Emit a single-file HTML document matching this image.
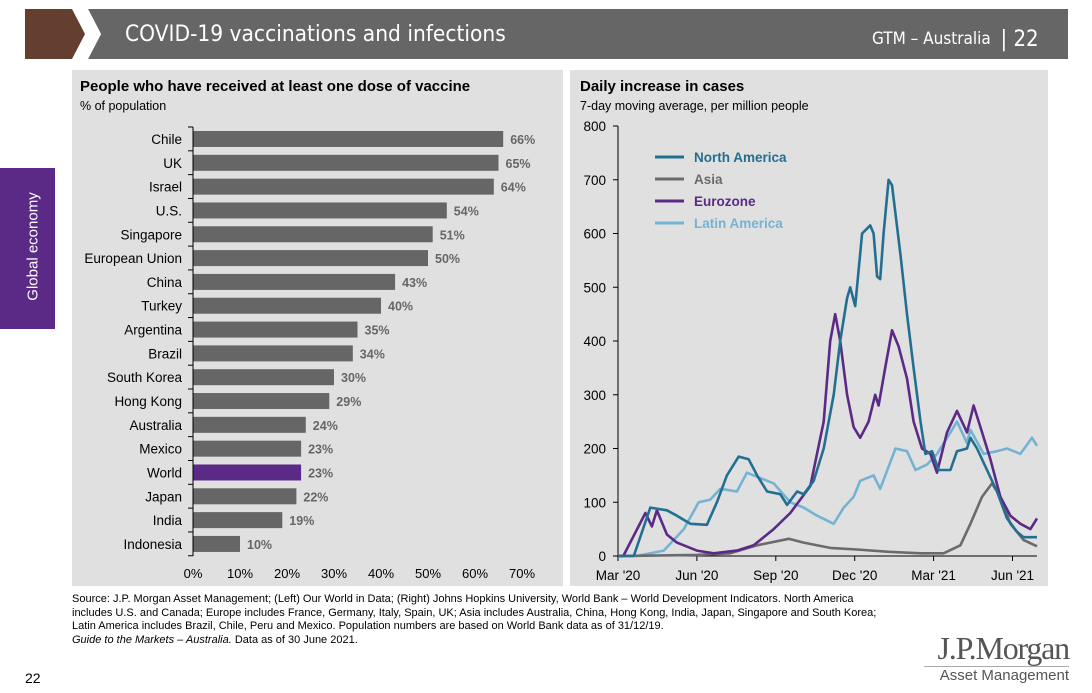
<!DOCTYPE html>
<html><head><meta charset="utf-8"><style>
body{margin:0;width:1092px;height:693px;background:#fff;position:relative;overflow:hidden;font-family:"Liberation Sans",Arial,sans-serif;}
.abs{position:absolute;}
.foot{font-family:"Liberation Sans Narrow","Liberation Sans",sans-serif;font-size:11px;line-height:13.5px;color:#000;white-space:nowrap;}
</style></head><body>
<div class="abs" style="left:25px;top:9px;width:60px;height:50px;background:#643f30;"></div>
<svg class="abs" style="left:0;top:0" width="1092" height="70">
<polygon points="88,9 1068,9 1068,59 88,59 101,34" fill="#666"/>
<polygon points="72,9 88,9 101,34 88,59 72,59 85,34" fill="#fff"/>
</svg>
<div class="abs" style="left:125px;top:21px;color:#fff;font-size:22.5px;font-family:'DejaVu Sans Condensed','Liberation Sans Narrow','Liberation Sans',sans-serif;">COVID-19 vaccinations and infections</div>
<div class="abs" style="left:872px;top:25px;color:#fff;font-size:17px;font-family:'DejaVu Sans Condensed','Liberation Sans',sans-serif;">GTM – Australia&nbsp;&nbsp;<span style="font-size:22px;position:relative;top:2px">| 22</span></div>
<div class="abs" style="left:0;top:168px;width:55px;height:161px;background:#5b2a86;"></div>
<div class="abs" style="left:-52px;top:238px;width:170px;text-align:center;color:#fff;font-size:15px;transform:rotate(-90deg);">Global economy</div>

<div class="abs" style="left:72px;top:70px;width:491px;height:516px;background:#e0e0e0;"></div>
<div class="abs" style="left:80px;top:78px;font-size:15px;font-weight:bold;">People who have received at least one dose of vaccine</div>
<div class="abs" style="left:80px;top:99px;font-size:12.5px;">% of population</div>
<div class="abs" style="left:570px;top:70px;width:478px;height:516px;background:#e0e0e0;"></div>
<div class="abs" style="left:580px;top:78px;font-size:15px;font-weight:bold;">Daily increase in cases</div>
<div class="abs" style="left:580px;top:99px;font-size:12.5px;">7-day moving average, per million people</div>

<svg id="bar" class="abs" style="left:0;top:0" width="570" height="590"></svg>
<svg id="line" class="abs" style="left:0;top:0" width="1092" height="590"></svg>

<div class="abs foot" style="left:72px;top:593px;">Source: J.P. Morgan Asset Management; (Left) Our World in Data; (Right) Johns Hopkins University, World Bank – World Development Indicators. North America<br>includes U.S. and Canada; Europe includes France, Germany, Italy, Spain, UK; Asia includes Australia, China, Hong Kong, India, Japan, Singapore and South Korea;<br>Latin America includes Brazil, Chile, Peru and Mexico. Population numbers are based on World Bank data as of 31/12/19.<br><i>Guide to the Markets – Australia.</i> Data as of 30 June 2021.</div>
<div class="abs" style="left:25px;top:670px;font-size:14px;">22</div>
<div class="abs" style="left:924px;top:632px;width:145px;text-align:right;color:#555;">
<div style="font-family:'Liberation Serif',serif;font-size:32px;letter-spacing:-1.2px;line-height:32px;">J.P.Morgan</div>
<div style="border-top:1px solid #aaa;margin-top:2px;font-family:'Liberation Sans Narrow','Liberation Sans',sans-serif;font-size:15px;line-height:18px;">Asset Management</div>
</div>

<script>
const countries=["Chile","UK","Israel","U.S.","Singapore","European Union","China","Turkey","Argentina","Brazil","South Korea","Hong Kong","Australia","Mexico","World","Japan","India","Indonesia"];
const shares=[66,65,64,54,51,50,43,40,35,34,30,29,24,23,23,22,19,10];
const xTicks=[0,10,20,30,40,50,60,70];

const NS="http://www.w3.org/2000/svg";
function mk(svg,tag,attrs,text){const e=document.createElementNS(NS,tag);for(const k in attrs)e.setAttribute(k,attrs[k]);if(text!==undefined)e.textContent=text;svg.appendChild(e);return e;}

// bar chart
const bsvg=document.getElementById('bar');
const bx=v=>193+v*(522-193)/70;
const by=i=>131+i*23.82;
xTicks.forEach(t=>{
  const tl=mk(bsvg,'text',{x:bx(t),y:578,'text-anchor':'middle','font-size':13},t+'%');
  
  
});
const ax=mk(bsvg,'line',{x1:193,y1:127,x2:193,y2:556,stroke:'#000','stroke-width':1});


for(let i=0;i<=countries.length;i++){
  const tk=mk(bsvg,'line',{x1:188,x2:193,y1:by(i)-4,y2:by(i)-4,stroke:'#000'});
  
  
}
countries.forEach((c,i)=>{
  const r=mk(bsvg,'rect',{x:193.5,y:by(i),width:bx(shares[i])-193.5,height:16,fill:c==='World'?'#5b2a86':'#666'});
  
  
  const l=mk(bsvg,'text',{x:182,y:by(i)+13,'text-anchor':'end','font-size':13.5},c);
  
  
  const v=mk(bsvg,'text',{x:bx(shares[i])+7,y:by(i)+13,'font-size':12.5,'font-weight':'bold',fill:'#666'},shares[i]+'%');
  
  
});

// line chart (x in months since 1 Mar 2020)
const monthTickPos=[0,3,6,9,12,15];
const monthTickLabels=["Mar '20","Jun '20","Sep '20","Dec '20","Mar '21","Jun '21"];
const yTicks=[0,100,200,300,400,500,600,700,800];
const naDates=[0,0.6,1.23,1.86,2.24,2.75,3.38,3.76,4.14,4.59,4.97,5.29,5.67,6.17,6.43,6.81,7.06,7.44,7.82,8.2,8.45,8.71,8.83,9.02,9.28,9.59,9.72,9.85,9.97,10.1,10.29,10.42,10.74,10.99,11.24,11.5,11.69,11.94,12.19,12.64,12.89,13.27,13.4,13.65,14.03,14.41,14.79,15.17,15.42,15.93];
const naVals=[0,0,90,85,75,60,58,100,150,185,180,150,120,115,95,120,115,140,200,300,400,480,500,465,600,615,600,520,515,600,700,690,560,450,350,250,190,195,160,160,195,200,220,200,160,120,70,45,35,35];
const euDates=[0,0.2,1.04,1.29,1.48,1.86,2.24,3.0,3.64,4.52,5.16,5.92,6.55,7.31,7.82,8.07,8.26,8.45,8.71,8.96,9.21,9.53,9.78,9.91,10.16,10.42,10.67,10.99,11.24,11.56,11.88,12.13,12.51,12.89,13.27,13.52,13.78,14.16,14.54,14.92,15.3,15.68,15.93];
const euVals=[0,0,80,55,85,40,25,10,5,10,20,50,80,130,250,400,450,400,300,240,220,250,300,280,350,420,390,330,250,200,190,155,230,270,230,280,240,180,110,75,60,50,70];
const asDates=[0,3.0,4.27,5.29,6.49,7.06,8.07,9.09,10.23,11.5,12.38,13.02,13.4,13.84,14.22,14.54,14.92,15.42,15.93];
const asVals=[0,2,5,20,32,25,15,12,8,5,5,20,60,110,135,110,60,30,18];
const laDates=[0,0.7,1.74,2.5,3.07,3.51,3.89,4.52,4.9,5.41,5.92,6.55,7.06,7.57,8.2,8.58,8.96,9.21,9.72,9.97,10.55,10.99,11.31,11.75,12.13,12.64,12.89,13.27,13.4,13.9,14.41,14.79,15.3,15.74,15.93];
const laVals=[0,0,10,50,100,105,125,120,155,145,135,100,90,75,60,90,110,140,150,125,200,195,160,170,190,230,250,210,235,190,195,200,190,220,205];

const lsvg=document.getElementById('line');
const lx=m=>618+m*26.3;
const ly=v=>556-v*(556-126)/800;
const a1=mk(lsvg,'line',{x1:618,y1:126,x2:618,y2:556,stroke:'#000'});


const a2=mk(lsvg,'line',{x1:618,y1:556,x2:1037,y2:556,stroke:'#000'});


yTicks.forEach(t=>{
  const tk=mk(lsvg,'line',{x1:613,x2:618,y1:ly(t),y2:ly(t),stroke:'#000'});
  
  
  const tl=mk(lsvg,'text',{x:606,y:ly(t)+5,'text-anchor':'end','font-size':13.5},t);
  
  
});
monthTickPos.forEach((m,i)=>{
  const tk=mk(lsvg,'line',{x1:lx(m),x2:lx(m),y1:556,y2:561,stroke:'#000'});
  
  
  const tl=mk(lsvg,'text',{x:lx(m),y:580,'text-anchor':'middle','font-size':13.5},monthTickLabels[i]);
  
  
});
const series=[
 {name:'Latin America',d:laDates,v:laVals,c:'#74b3d3'},
 {name:'Asia',d:asDates,v:asVals,c:'#6b6b6b'},
 {name:'Eurozone',d:euDates,v:euVals,c:'#5b2a86'},
 {name:'North America',d:naDates,v:naVals,c:'#236f91'}];
series.forEach(s=>{
  const p=mk(lsvg,'polyline',{points:s.d.map((m,i)=>lx(m).toFixed(1)+','+ly(s.v[i]).toFixed(1)).join(' '),fill:'none',stroke:s.c,'stroke-width':2.6,'stroke-linejoin':'round'});
  
  
});
const legendOrder=[3,1,2,0];
legendOrder.forEach((si,k)=>{
  const s=series[si];const y=157+k*22;
  const g=mk(lsvg,'g',{});
  
  
  mk(g,'line',{x1:655,x2:684,y1:y,y2:y,stroke:s.c,'stroke-width':3});
  mk(g,'text',{x:694,y:y+5,'font-size':13.5,'font-weight':'bold',fill:s.c},s.name);
});
</script>
</body></html>
